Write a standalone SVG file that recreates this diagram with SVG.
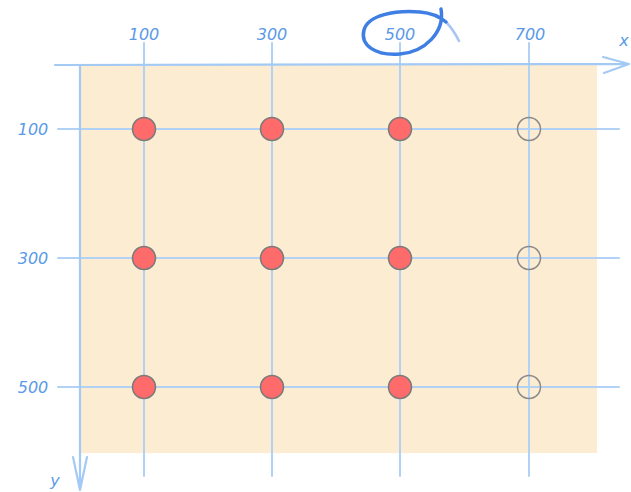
<svg xmlns="http://www.w3.org/2000/svg" width="631" height="492" viewBox="0 0 631 492">
<style>
.lbl{font-family:"DejaVu Sans","Liberation Sans",sans-serif;font-style:italic;font-size:16px;fill:#5a9ae6;text-anchor:middle}
.grid{stroke:#b1d2f5;stroke-width:2;fill:none;stroke-linecap:round}
.axis{stroke:#a3caf5;stroke-width:2.2;fill:none;stroke-linecap:round;stroke-linejoin:round}
.pt{fill:#ff6b6b;stroke:#7a7a7a;stroke-width:1.5}
.empty{fill:none;stroke:#8a8a8a;stroke-width:1.5}
</style>
<rect x="80" y="65" width="517" height="388" fill="#fcecd1"/>
<g id="connectors">
<line class="grid" x1="144" y1="43" x2="144" y2="476"/>
<line class="grid" x1="272" y1="43" x2="272" y2="476"/>
<line class="grid" x1="400" y1="43" x2="400" y2="476"/>
<line class="grid" x1="529" y1="43" x2="529" y2="476"/>
<line class="grid" x1="58" y1="129" x2="619" y2="129"/>
<line class="grid" x1="58" y1="258" x2="619" y2="258"/>
<line class="grid" x1="58" y1="387" x2="619" y2="387"/>
<path class="axis" d="M55 65 L629 64 M603 57 L629 64 L604 73"/>
<path class="axis" d="M80 65 L80 490 M73 457 L80 490 L87 457"/>
</g>
<g id="labels">
<text class="lbl" x="144" y="40">100</text>
<text class="lbl" x="272" y="40">300</text>
<text class="lbl" x="400" y="40">500</text>
<text class="lbl" x="530" y="40">700</text>
<text class="lbl" x="624" y="46">x</text>
<text class="lbl" x="33" y="135">100</text>
<text class="lbl" x="33" y="264">300</text>
<text class="lbl" x="33" y="393">500</text>
<text class="lbl" x="55" y="486">y</text>
</g>
<g id="highlight" fill="none" stroke="#3f7fe4" stroke-linecap="round">
<path d="M441 9 C445 32,425 52,400 54 C375 56,360 45,364 30 C368 15,395 10,420 12 C432 13,440 17,446 22" stroke-width="3.5"/>
<path d="M446 22 C451 27,455 33,459 41" stroke-width="2.5" opacity="0.45"/>
</g>
<g id="p1"><circle class="pt" cx="144" cy="129" r="11.5"/></g>
<g id="p2"><circle class="pt" cx="272" cy="129" r="11.5"/></g>
<g id="p3"><circle class="pt" cx="400" cy="129" r="11.5"/></g>
<g id="p4"><circle class="empty" cx="529" cy="129" r="11.5"/></g>
<g id="p5"><circle class="pt" cx="144" cy="258" r="11.5"/></g>
<g id="p6"><circle class="pt" cx="272" cy="258" r="11.5"/></g>
<g id="p7"><circle class="pt" cx="400" cy="258" r="11.5"/></g>
<g id="p8"><circle class="empty" cx="529" cy="258" r="11.5"/></g>
<g id="p9"><circle class="pt" cx="144" cy="387" r="11.5"/></g>
<g id="p10"><circle class="pt" cx="272" cy="387" r="11.5"/></g>
<g id="p11"><circle class="pt" cx="400" cy="387" r="11.5"/></g>
<g id="p12"><circle class="empty" cx="529" cy="387" r="11.5"/></g>
</svg>
